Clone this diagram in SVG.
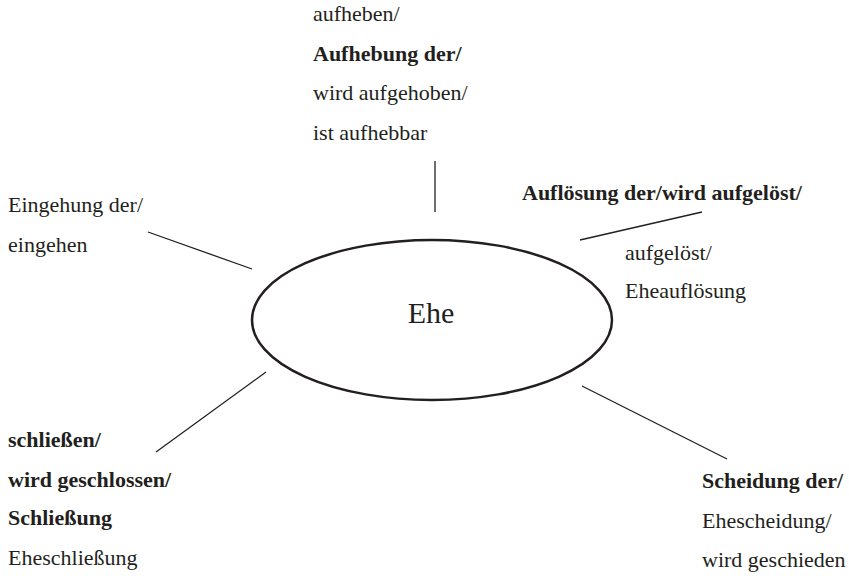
<svg xmlns="http://www.w3.org/2000/svg" width="849" height="576" viewBox="0 0 849 576">
<style>
text{font-family:"Liberation Serif","Times New Roman",serif;font-size:22px;fill:#231f20}
.b{font-weight:bold}
.c{stroke:#231f20;stroke-width:1.3;fill:none}
</style>
<rect width="849" height="576" fill="#fff"/>
<g id="connectors">
<line class="c" x1="435" y1="161" x2="435" y2="212"/>
<line class="c" x1="580" y1="240" x2="702" y2="212"/>
<line class="c" x1="148" y1="232" x2="252" y2="269"/>
<line class="c" x1="266" y1="372" x2="156" y2="452"/>
<line class="c" x1="582" y1="386" x2="727" y2="459"/>
</g>
<g id="ehe">
<ellipse cx="432" cy="320" rx="180" ry="80" fill="#fff" stroke="#231f20" stroke-width="2.5"/>
<text x="431" y="323" text-anchor="middle" style="font-size:30px">Ehe</text>
</g>
<g id="aufhebung">
<text x="313" y="21">aufheben/</text>
<text x="313" y="61" class="b">Aufhebung der/</text>
<text x="313" y="100">wird aufgehoben/</text>
<text x="313" y="140">ist aufhebbar</text>
</g>
<g id="aufloesung">
<text x="522" y="200" class="b">Auflösung der/wird aufgelöst/</text>
<text x="625" y="260">aufgelöst/</text>
<text x="625" y="298">Eheauflösung</text>
</g>
<g id="eingehung">
<text x="8" y="212">Eingehung der/</text>
<text x="8" y="252">eingehen</text>
</g>
<g id="schliessung">
<text x="8" y="447" class="b">schließen/</text>
<text x="8" y="487" class="b">wird geschlossen/</text>
<text x="8" y="525" class="b">Schließung</text>
<text x="8" y="565">Eheschließung</text>
</g>
<g id="scheidung">
<text x="702" y="488" class="b">Scheidung der/</text>
<text x="702" y="528">Ehescheidung/</text>
<text x="702" y="567">wird geschieden</text>
</g>
</svg>
